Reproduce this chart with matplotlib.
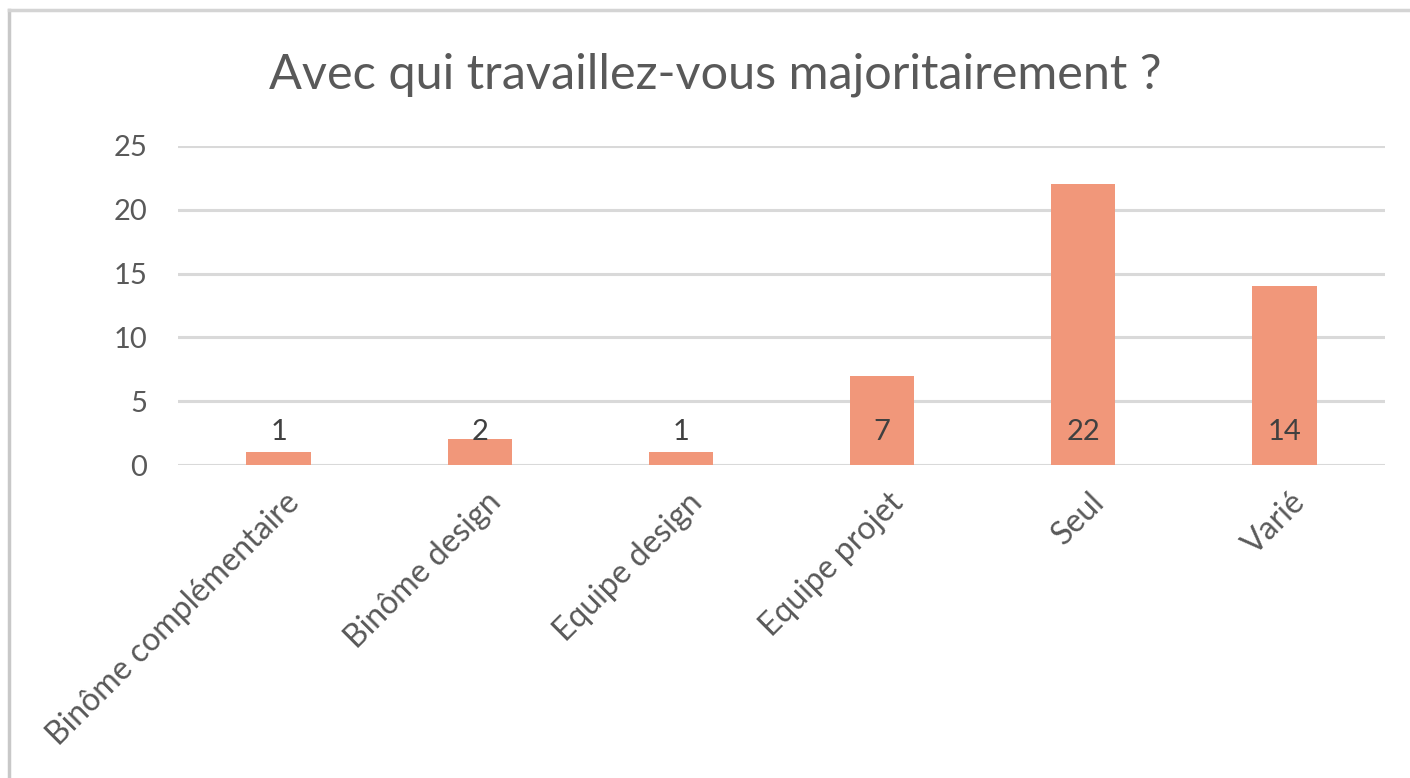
import numpy as np, matplotlib.pyplot as plt
from matplotlib.lines import Line2D
from matplotlib.transforms import ScaledTranslation

plt.rcParams['font.family'] = ['Lato', 'DejaVu Sans']

categories = ['Binôme complémentaire', 'Binôme design', 'Equipe design',
              'Equipe projet', 'Seul', 'Varié']
counts = [1, 2, 1, 7, 22, 14]
yticks = [0, 5, 10, 15, 20, 25]

bar_color = '#F1977A'
text_color = '#595959'
grid_color = '#D9D9D9'

fig = plt.figure(figsize=(14.1, 7.78), dpi=100)
ax = fig.add_axes([178/1410, 1 - 465/778, (1385-178)/1410, (465-146)/778])

x = np.arange(len(categories))
ax.bar(x, counts, width=0.32, color=bar_color, zorder=3)

ax.set_xlim(-0.5, len(categories) - 0.5)
ax.set_ylim(0, 25)
ax.set_yticks(yticks)
ax.set_yticklabels([str(t) for t in yticks], fontsize=21, color=text_color)
ax.yaxis.grid(True, color=grid_color, linewidth=2.2, zorder=0)
ax.tick_params(axis='y', length=0, pad=22)
ax.tick_params(axis='x', length=0, pad=16)
ax.set_xticks(x)
ax.set_xticklabels(categories, rotation=45, ha='right', rotation_mode='anchor',
                   fontsize=23, color=text_color)
shift = ScaledTranslation(6/100, 0, fig.dpi_scale_trans)
for lbl in ax.get_xticklabels():
    lbl.set_transform(lbl.get_transform() + shift)
for s in ax.spines.values():
    s.set_visible(False)

# value labels sit at the same height, Excel "inside base" style
for xi, v in zip(x, counts):
    ax.text(xi, 2.6, str(v), ha='center', va='center', fontsize=21,
            color='#404040', zorder=4)

fig.text(715/1410, 1 - 75/778, 'Avec qui travaillez-vous majoritairement ?',
         ha='center', va='center', fontsize=35, color=text_color)

# chart area frame (left and top edges visible)
fig.add_artist(Line2D([9/1410, 9/1410], [0, 1 - 10/778], transform=fig.transFigure,
                      color='#C8C8C8', linewidth=2.5))
fig.add_artist(Line2D([9/1410, 1], [1 - 10/778, 1 - 10/778], transform=fig.transFigure,
                      color='#D4D4D4', linewidth=2.5))

fig.savefig('out.png', dpi=100)
